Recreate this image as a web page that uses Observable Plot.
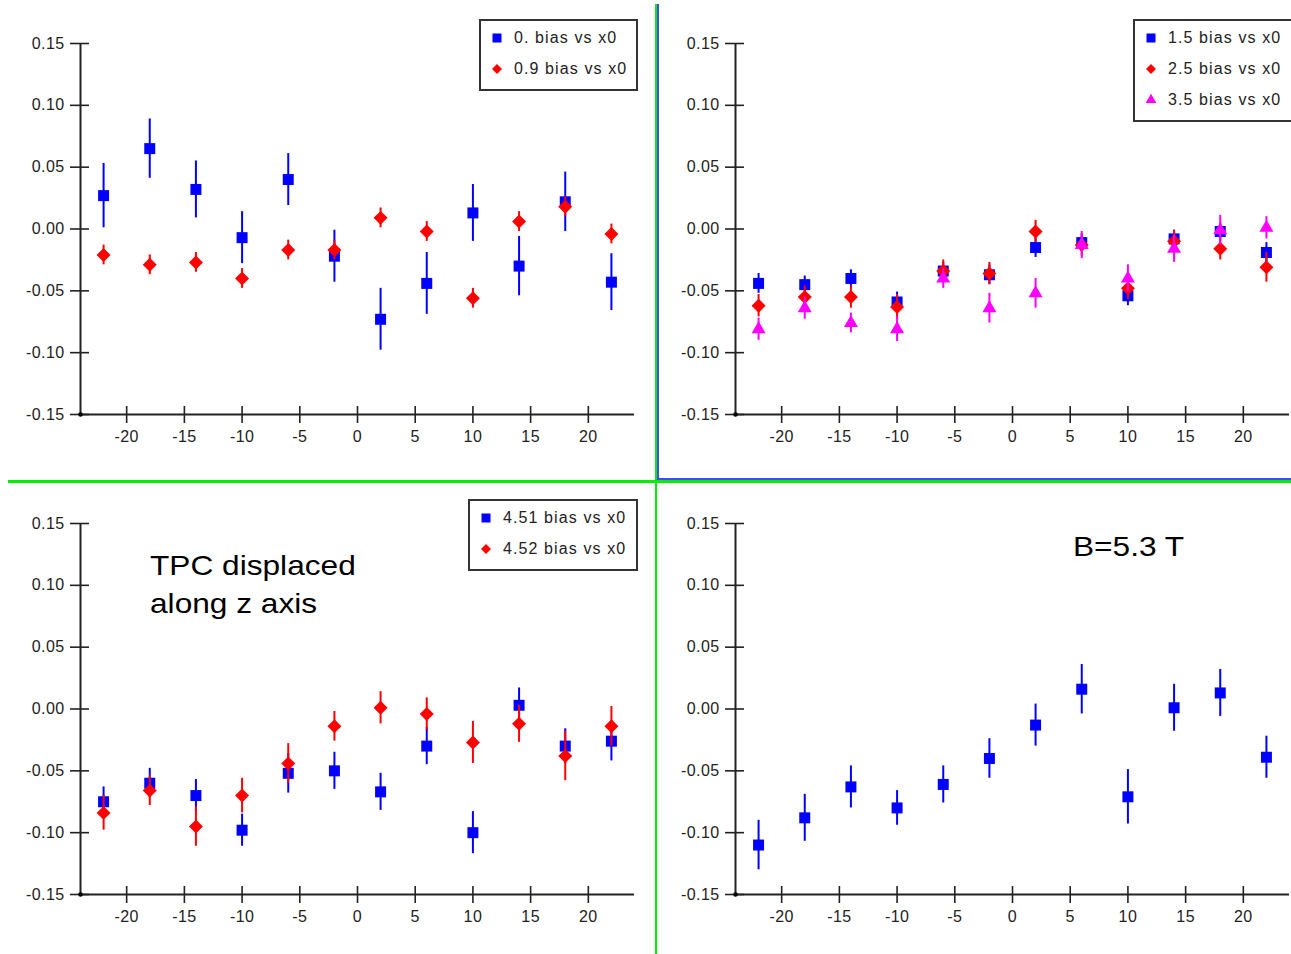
<!DOCTYPE html>
<html>
<head>
<meta charset="utf-8">
<script src="https://cdn.jsdelivr.net/npm/d3@7"></script>
<script src="https://cdn.jsdelivr.net/npm/@observablehq/plot@0.6"></script>
<style>
  html, body { margin: 0; padding: 0; background: #fff; }
  #root { position: relative; width: 1291px; height: 954px; overflow: hidden; background: #fff; }
  .panel { position: absolute; }
  .sep { position: absolute; z-index: 5; }
  .legend { position: absolute; border: 2px solid #333; background: #fff; z-index: 3; box-sizing: border-box; }
  .legend .row { position: absolute; font-family: 'Liberation Sans', Arial, sans-serif; font-size: 16px; letter-spacing: 1.1px; color: #222; line-height: 18px; white-space: nowrap; }
  .legend svg { position: absolute; overflow: visible; }
  .note { position: absolute; font-family: 'Liberation Sans', Arial, sans-serif; font-size: 28px; color: #000; transform-origin: left top; transform: scaleX(1.13); z-index: 3; white-space: nowrap; }
</style>
</head>
<body>
<div id="root"></div>
<script>
// ---------- data ----------
const xPos = [-22, -18, -14, -10, -6, -2, 2, 6, 10, 14, 18, 22];
const xTicks = [-20, -15, -10, -5, 0, 5, 10, 15, 20];
const xTickLabels = ["-20", "-15", "-10", "-5", "0", "5", "10", "15", "20"];
const yTicks = [-0.15, -0.10, -0.05, 0.00, 0.05, 0.10, 0.15];
const yTickLabels = ["-0.15", "-0.10", "-0.05", "0.00", "0.05", "0.10", "0.15"];
const xDomain = [-24, 24];
const yDomain = [-0.15, 0.15];

// panel 1
const p1Labels = ["0. bias vs x0", "0.9 bias vs x0"];
const p1Bias0 = [0.027, 0.065, 0.032, -0.007, 0.040, -0.022, -0.073, -0.044, 0.013, -0.030, 0.022, -0.043];
const p1Bias0Err = [0.026, 0.024, 0.023, 0.021, 0.021, 0.021, 0.025, 0.025, 0.023, 0.024, 0.024, 0.023];
const p1Bias09 = [-0.021, -0.029, -0.027, -0.040, -0.017, -0.017, 0.009, -0.002, -0.056, 0.006, 0.018, -0.004];
const p1Bias09Err = [0.008, 0.008, 0.008, 0.008, 0.008, 0.008, 0.008, 0.008, 0.008, 0.008, 0.008, 0.008];

// panel 2
const p2Labels = ["1.5 bias vs x0", "2.5 bias vs x0", "3.5 bias vs x0"];
const p2Bias15 = [-0.044, -0.045, -0.040, -0.059, -0.034, -0.037, -0.015, -0.011, -0.054, -0.008, -0.002, -0.019];
const p2Bias15Err = [0.008, 0.007, 0.007, 0.008, 0.007, 0.008, 0.008, 0.007, 0.008, 0.007, 0.007, 0.008];
const p2Bias25 = [-0.062, -0.055, -0.055, -0.063, -0.034, -0.036, -0.002, -0.013, -0.048, -0.010, -0.016, -0.031];
const p2Bias25Err = [0.009, 0.009, 0.009, 0.010, 0.009, 0.009, 0.009, 0.009, 0.009, 0.009, 0.009, 0.012];
const p2Bias35 = [-0.081, -0.064, -0.076, -0.081, -0.040, -0.064, -0.052, -0.013, -0.040, -0.016, -0.001, 0.001];
const p2Bias35Err = [0.009, 0.009, 0.008, 0.010, 0.008, 0.012, 0.012, 0.011, 0.011, 0.011, 0.012, 0.009];

// panel 3
const p3Labels = ["4.51 bias vs x0", "4.52 bias vs x0"];
const p3Bias451 = [-0.075, -0.060, -0.070, -0.098, -0.052, -0.050, -0.067, -0.030, -0.100, 0.003, -0.030, -0.026];
const p3Bias451Err = [0.012, 0.012, 0.013, 0.013, 0.016, 0.015, 0.015, 0.015, 0.017, 0.014, 0.014, 0.016];
const p3Bias452 = [-0.084, -0.066, -0.095, -0.070, -0.044, -0.014, 0.001, -0.004, -0.027, -0.012, -0.038, -0.014];
const p3Bias452Err = [0.014, 0.012, 0.016, 0.014, 0.016, 0.012, 0.013, 0.013, 0.017, 0.015, 0.020, 0.016];
const p3Note = ["TPC displaced", "along z axis"];

// panel 4
const p4Bias = [-0.110, -0.088, -0.063, -0.080, -0.061, -0.040, -0.013, 0.016, -0.071, 0.001, 0.013, -0.039];
const p4BiasErr = [0.020, 0.019, 0.017, 0.014, 0.015, 0.016, 0.017, 0.020, 0.022, 0.019, 0.019, 0.017];
const p4Note = "B=5.3 T";

// ---------- styles ----------
const BLUE = "#0000ff", RED = "#ff0000", MAGENTA = "#ff00ff";
const SYM = {
  square: {plot: "square", r: 6.2, legendSize: 81, d3: d3.symbolSquare},
  diamond: {plot: "diamond2", r: 6.3, legendSize: 64, d3: d3.symbolDiamond2},
  triangle: {plot: "triangle", r: 5.2, legendSize: 50, d3: d3.symbolTriangle}
};

function table(vals, errs) {
  return xPos.map((x, i) => ({x, y: vals[i], e: errs[i]}));
}

const root = document.getElementById("root");

function makePanel({left, top, width, height, mt, mb, ml, mr, series}) {
  const marks = [
    Plot.ruleY([yDomain[0]], {stroke: "#222", strokeWidth: 2}),
    Plot.ruleX([xDomain[0]], {stroke: "#222", strokeWidth: 2}),
    Plot.axisX({ticks: xTicks, label: null, tickSize: 17, dy: -8, tickPadding: 7, stroke: "#222", strokeWidth: 1.6,
      tickFormat: d => xTickLabels[xTicks.indexOf(d)]}),
    Plot.axisY({ticks: yTicks, label: null, tickSize: 19, dx: 9, tickPadding: 6, stroke: "#222", strokeWidth: 1.6,
      tickFormat: d => yTickLabels[yTicks.indexOf(d)]}),
    Plot.dot([0], {x: () => xDomain[0], y: () => yDomain[0], r: 2.3, fill: "#000"})
  ];
  for (const s of series) {
    const data = table(s.vals, s.errs);
    marks.push(Plot.ruleX(data, {x: "x", y1: d => d.y - d.e, y2: d => d.y + d.e, stroke: s.color, strokeWidth: 2}));
    marks.push(Plot.dot(data, {x: "x", y: "y", symbol: SYM[s.symbol].plot, r: SYM[s.symbol].r, fill: s.color, stroke: "none"}));
  }
  const chart = Plot.plot({
    width, height,
    marginTop: mt, marginBottom: mb, marginLeft: ml, marginRight: mr,
    x: {domain: xDomain, label: null},
    y: {domain: yDomain, label: null},
    style: {fontFamily: "'Liberation Sans', Arial, sans-serif", fontSize: "16px", color: "#222", letterSpacing: "0.4px", background: "#fff"},
    marks
  });
  const wrap = document.createElement("div");
  wrap.className = "panel";
  wrap.style.left = left + "px";
  wrap.style.top = top + "px";
  wrap.appendChild(chart);
  root.appendChild(wrap);
}

function makeLegend({left, top, width, height, items}) {
  const box = document.createElement("div");
  box.className = "legend";
  Object.assign(box.style, {left: left + "px", top: top + "px", width: width + "px", height: height + "px"});
  items.forEach((it, i) => {
    const cy = 17 + i * 31;
    const svg = d3.create("svg").attr("width", 12).attr("height", 12)
      .style("left", (16 - 6) + "px").style("top", (cy - 6) + "px");
    svg.append("path").attr("transform", "translate(6,6)")
      .attr("d", d3.symbol(SYM[it.symbol].d3, SYM[it.symbol].legendSize)())
      .attr("fill", it.color);
    box.appendChild(svg.node());
    const t = document.createElement("div");
    t.className = "row";
    t.textContent = it.label;
    t.style.left = "33px";
    t.style.top = (cy - 9) + "px";
    box.appendChild(t);
  });
  root.appendChild(box);
}

function addSep(left, top, width, height, color) {
  const d = document.createElement("div");
  d.className = "sep";
  Object.assign(d.style, {left: left + "px", top: top + "px", width: width + "px", height: height + "px", background: color});
  root.appendChild(d);
}

function addNote(lines, left, top, lineHeight) {
  const d = document.createElement("div");
  d.className = "note";
  d.style.left = left + "px";
  d.style.top = top + "px";
  d.style.lineHeight = lineHeight + "px";
  d.innerHTML = lines.map(l => l.replace(/&/g, "&amp;").replace(/</g, "&lt;")).join("<br>");
  root.appendChild(d);
}

// ---------- panels ----------
makePanel({left: 0, top: 0, width: 650, height: 478, mt: 43, mb: 64, ml: 80, mr: 16, series: [
  {vals: p1Bias0, errs: p1Bias0Err, color: BLUE, symbol: "square"},
  {vals: p1Bias09, errs: p1Bias09Err, color: RED, symbol: "diamond"}
]});
makePanel({left: 655, top: 0, width: 636, height: 478, mt: 43, mb: 64, ml: 80, mr: 2, series: [
  {vals: p2Bias15, errs: p2Bias15Err, color: BLUE, symbol: "square"},
  {vals: p2Bias25, errs: p2Bias25Err, color: RED, symbol: "diamond"},
  {vals: p2Bias35, errs: p2Bias35Err, color: MAGENTA, symbol: "triangle"}
]});
makePanel({left: 0, top: 480, width: 650, height: 474, mt: 43, mb: 60, ml: 80, mr: 16, series: [
  {vals: p3Bias451, errs: p3Bias451Err, color: BLUE, symbol: "square"},
  {vals: p3Bias452, errs: p3Bias452Err, color: RED, symbol: "diamond"}
]});
makePanel({left: 655, top: 480, width: 636, height: 474, mt: 43, mb: 60, ml: 80, mr: 2, series: [
  {vals: p4Bias, errs: p4BiasErr, color: BLUE, symbol: "square"}
]});

// ---------- legends ----------
makeLegend({left: 479, top: 19, width: 159, height: 72, items: [
  {label: p1Labels[0], color: BLUE, symbol: "square"},
  {label: p1Labels[1], color: RED, symbol: "diamond"}
]});
makeLegend({left: 1133, top: 19, width: 175, height: 103, items: [
  {label: p2Labels[0], color: BLUE, symbol: "square"},
  {label: p2Labels[1], color: RED, symbol: "diamond"},
  {label: p2Labels[2], color: MAGENTA, symbol: "triangle"}
]});
makeLegend({left: 468, top: 499, width: 170, height: 72, items: [
  {label: p3Labels[0], color: BLUE, symbol: "square"},
  {label: p3Labels[1], color: RED, symbol: "diamond"}
]});

// ---------- notes ----------
addNote(p3Note, 150, 547, 38);
addNote([p4Note], 1073, 531, 32);

// ---------- separators ----------
addSep(655, 4, 2, 950, "#00ee00");
addSep(657, 4, 2, 476, "#4646ff");
addSep(657, 478, 634, 2, "#4646ff");
addSep(8, 480, 1283, 3, "#00ee00");
</script>
</body>
</html>
